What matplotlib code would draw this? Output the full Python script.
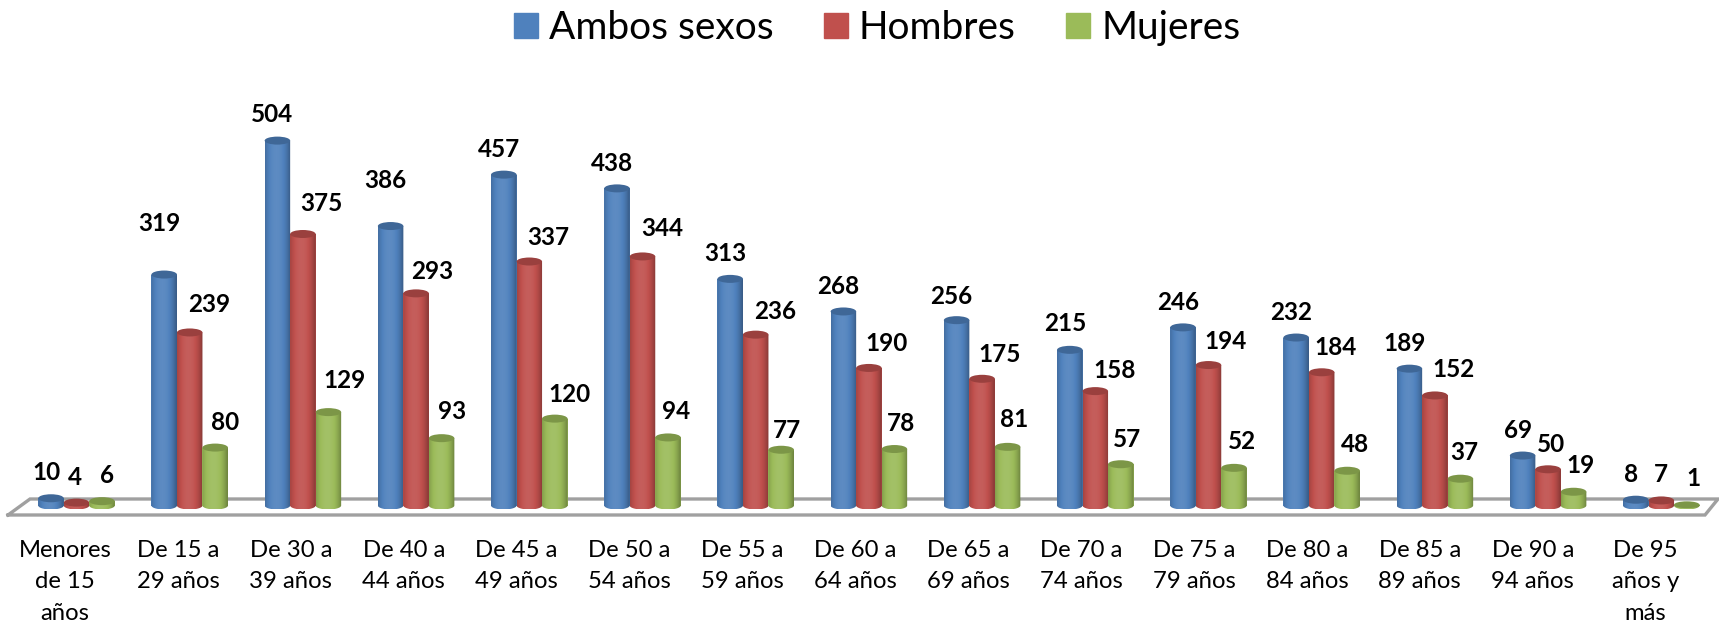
import numpy as np
import matplotlib
matplotlib.use("Agg")
import matplotlib.pyplot as plt
from matplotlib.patches import Ellipse, Patch, PathPatch
from matplotlib.path import Path

plt.rcParams['font.family'] = ['Lato', 'DejaVu Sans']

categories = ["Menores\nde 15\naños", "De 15 a\n29 años", "De 30 a\n39 años", "De 40 a\n44 años",
              "De 45 a\n49 años", "De 50 a\n54 años", "De 55 a\n59 años", "De 60 a\n64 años",
              "De 65 a\n69 años", "De 70 a\n74 años", "De 75 a\n79 años", "De 80 a\n84 años",
              "De 85 a\n89 años", "De 90 a\n94 años", "De 95\naños y\nmás"]
ambos = [10, 319, 504, 386, 457, 438, 313, 268, 256, 215, 246, 232, 189, 69, 8]
hombres = [4, 239, 375, 293, 337, 344, 236, 190, 175, 158, 194, 184, 152, 50, 7]
mujeres = [6, 80, 129, 93, 120, 94, 77, 78, 81, 57, 52, 48, 37, 19, 1]

# hand placed data labels in the original, offsets in pixels from the bar top
ambos_dx = [-5] * 15
ambos_dy = [26, 51, 26, 46, 25, 25, 25, 25, 24, 26, 25, 25, 25, 25, 25]
hombres_dx = [-2, 19, 18, 16, 19, 20, 19, 18, 17, 19, 17, 14, 19, 3, 0]
hombres_dy = [25, 28, 30, 22, 24, 28, 23, 24, 24, 21, 24, 25, 26, 25, 26]
mujeres_dx = [5, 10, 16, 10, 15, 8, 6, 7, 7, 6, 8, 8, 4, 7, 7]
mujeres_dy = [26, 25, 32, 27, 24, 26, 19, 26, 27, 25, 26, 26, 26, 26, 26]

W, H = 1719, 625
X0, XK = 76.5, 113.2   # pixel of first group, pixels per group
Y0, YK = 505.5, 0.724  # pixel of zero, pixels per unit
BOTTOM = 525
BAR_W = 25.5 / XK
CAP_H = 8 / YK


def px(x, y):
    return (x - X0) / XK, (Y0 - y) / YK


def shade(color, f):
    c = np.array(matplotlib.colors.to_rgb(color))
    return c * f if f < 1 else c + (1 - c) * (f - 1)


def cylinder(rect, color):
    left, w, v = rect.get_x(), rect.get_width(), rect.get_height()
    # body with a rounded bottom, used as clip for the shading
    t = np.linspace(0, np.pi, 40)
    cx = left + w / 2
    bx = cx + np.cos(t) * w / 2
    by = -np.sin(t) * CAP_H / 2
    verts = [(left, v), (left + w, v)] + list(zip(bx, by)) + [(left, v)]
    clip = PathPatch(Path(verts), transform=ax.transData, fc='none', ec='none')
    ax.add_patch(clip)
    u = np.abs(np.linspace(-1, 1, 48) + 0.12)
    f = 1.08 - 0.3 * u ** 2.2
    grad = np.array([shade(color, i) for i in f])[None, :, :]
    im = ax.imshow(grad, extent=(left, left + w, -CAP_H / 2, v), aspect='auto',
                   interpolation='bilinear', zorder=rect.get_zorder(), origin='lower')
    im.set_clip_path(clip)
    ax.add_patch(Ellipse((cx, v), w, min(CAP_H, 6 / YK + v * 1.2), fc=shade(color, 0.8), ec='none',
                         zorder=rect.get_zorder() + 0.1))


fig = plt.figure(figsize=(W / 100, H / 100), dpi=100)
ax = fig.add_axes([0, (H - BOTTOM) / H, 1, BOTTOM / H])

x = np.arange(len(categories))
series = [(ambos, '#4F81BD', -1, ambos_dx, ambos_dy, 'Ambos sexos'),
          (hombres, '#C0504D', 0, hombres_dx, hombres_dy, 'Hombres'),
          (mujeres, '#9BBB59', 1, mujeres_dx, mujeres_dy, 'Mujeres')]

# floor of the 3d chart
floor = [px(8, 515), px(1705, 515), px(1718, 499), px(30, 499), px(8, 515)]
ax.plot(*zip(*floor), color='#A0A0A0', lw=2.4, zorder=1, solid_joinstyle='miter')

for i, (vals, color, k, dx, dy, name) in enumerate(series):
    bars = ax.bar(x + k * BAR_W, vals, BAR_W, color=color, zorder=3 + i)
    for rect in bars:
        cylinder(rect, color)
    for j, v in enumerate(vals):
        ax.annotate(str(v), (x[j] + k * BAR_W, v), xytext=(dx[j] * 0.72, dy[j] * 0.72),
                    textcoords='offset points', ha='center', va='center',
                    fontsize=17.5, fontweight='bold', color='black', zorder=10)

ax.set_xlim(-X0 / XK, (W - X0) / XK)
ax.set_ylim((Y0 - BOTTOM) / YK, Y0 / YK)
# the category labels sit a bit left of the bars in the original
ax.set_xticks(x * 112.9 / XK - 11.5 / XK)
ax.set_xticklabels(categories, fontsize=17.2, linespacing=1.64)
ax.tick_params(axis='x', length=0, pad=10.5)
ax.set_yticks([])
for s in ax.spines.values():
    s.set_visible(False)
ax.patch.set_alpha(0)

handles = [Patch(color=s[1], label=s[5]) for s in series]
fig.legend(handles=handles, ncol=3, loc='upper center', bbox_to_anchor=(0.5102, 1.015), frameon=False,
           fontsize=28, handlelength=0.62, handleheight=0.62, handletextpad=0.28, columnspacing=1.3,
           borderaxespad=0.1)

fig.savefig('out.png', dpi=100)
